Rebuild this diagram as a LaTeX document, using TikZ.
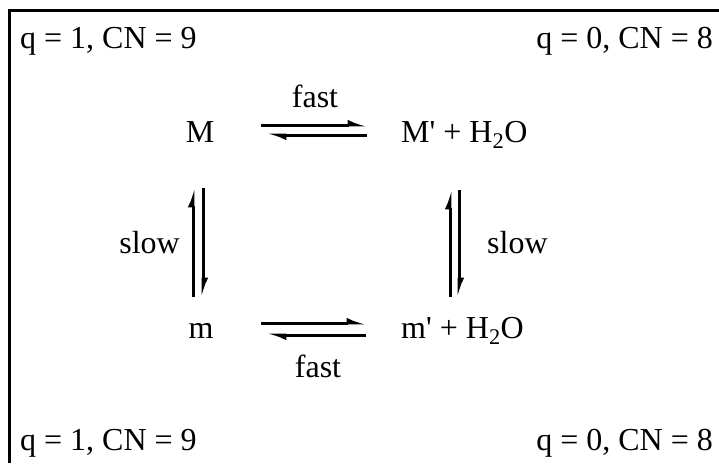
\documentclass[tikz,border=0pt]{standalone}
\usepackage{fontspec}
\setmainfont{Liberation Serif}
\usetikzlibrary{arrows.meta}
\tikzset{
  lbl/.style={inner sep=0pt, font=\fontsize{32}{38}\selectfont},
  harp/.style={line width=3pt, -{Latex[harpoon,length=14pt,width=11pt]}},
  frame/.style={line width=3pt}
}
\begin{document}
\begin{tikzpicture}[x=1pt,y=-1pt]
\useasboundingbox (0,0) rectangle (719,463);
% frame
\coordinate (fbl) at (9,463);
\coordinate (ftl) at (9,10);
\coordinate (ftr) at (719,10);
\draw[frame] (fbl) -- (ftl) -- (ftr);
% corner labels
\node[lbl, anchor=base west] (tl) at (20,48) {q = 1, CN = 9};
\node[lbl, anchor=base east] (tr) at (713,48) {q = 0, CN = 8};
\node[lbl, anchor=base west] (bl) at (20,450) {q = 1, CN = 9};
\node[lbl, anchor=base east] (br) at (713,450) {q = 0, CN = 8};
% species
\node[lbl, anchor=base] (M) at (200,142) {M};
\node[lbl, anchor=base west] (Mp) at (401,142) {M\textquotesingle{} + H\textsubscript{2}O};
\node[lbl, anchor=base] (m) at (201,338) {m};
\node[lbl, anchor=base west] (mp) at (401,338) {m\textquotesingle{} + H\textsubscript{2}O};
% rate labels
\node[lbl, anchor=base] (ftop) at (315,107) {fast};
\node[lbl, anchor=base] (fbot) at (318,377) {fast};
\node[lbl, anchor=base east] (sl) at (180,253) {slow};
\node[lbl, anchor=base west] (sr) at (487,253) {slow};
% arrow end points
\coordinate (a1s) at (261,125); \coordinate (a1e) at (367,125);
\coordinate (a2s) at (367,135); \coordinate (a2e) at (267,135);
\coordinate (b1s) at (261,323); \coordinate (b1e) at (366,323);
\coordinate (b2s) at (366,335); \coordinate (b2e) at (267,335);
\coordinate (l1s) at (193,297); \coordinate (l1e) at (193,188);
\coordinate (l2s) at (203,188); \coordinate (l2e) at (203,297);
\coordinate (r1s) at (450,297); \coordinate (r1e) at (450,190);
\coordinate (r2s) at (459,190); \coordinate (r2e) at (459,297);
\draw[harp] (a1s) -- (a1e);
\draw[harp] (a2s) -- (a2e);
\draw[harp] (b1s) -- (b1e);
\draw[harp] (b2s) -- (b2e);
\draw[harp] (l1s) -- (l1e);
\draw[harp] (l2s) -- (l2e);
\draw[harp] (r1s) -- (r1e);
\draw[harp] (r2s) -- (r2e);
\end{tikzpicture}
\end{document}
